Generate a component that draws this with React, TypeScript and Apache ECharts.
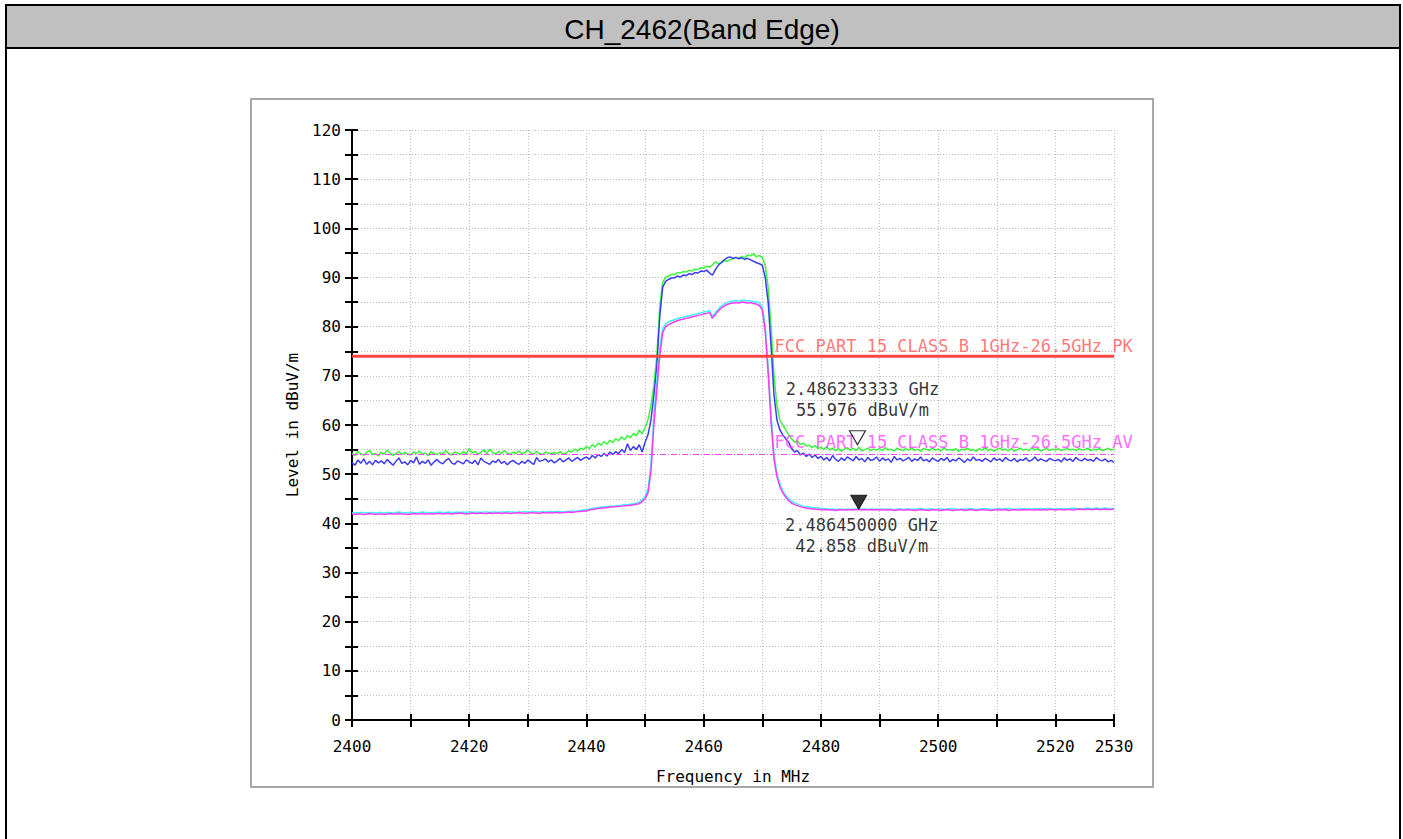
import React, { useEffect, useRef } from "react";
import * as echarts from "echarts";

const TITLE = "CH_2462(Band Edge)";
const X_NAME = "Frequency in MHz";
const Y_NAME = "Level in dBuV/m";
const X_MIN = 2400;
const X_MAX = 2530;
const Y_MIN = 0;
const Y_MAX = 120;

const LIMIT_PK = 74;
const LIMIT_AV = 54;
const LIMIT_PK_NAME = "FCC PART 15 CLASS B 1GHz-26.5GHz PK";
const LIMIT_AV_NAME = "FCC PART 15 CLASS B 1GHz-26.5GHz AV";
const LIMIT_LABEL_FREQ = 2472.0;

const MARKER_FREQ = [2486.233333, 2486.45];
const MARKER_LEVEL = [55.976, 42.858];
const MARKER_TEXT_FREQ = ["2.486233333 GHz", "2.486450000 GHz"];
const MARKER_TEXT_LEVEL = ["55.976 dBuV/m", "42.858 dBuV/m"];

// sweep grid: 0.5 MHz steps, 2400 .. 2530
const FREQ = Array.from({ length: 261 }, (_, i) => X_MIN + i * 0.5);

const GREEN = [
  54.3, 53.8, 54.6, 54.1, 53.9, 54.4, 54.8, 54.0, 54.2, 53.7,
  54.5, 54.1, 54.9, 54.3, 53.8, 54.2, 54.6, 54.0, 54.4, 54.1,
  53.9, 54.5, 54.2, 54.7, 54.0, 54.3, 53.8, 54.6, 54.2, 54.0,
  54.4, 54.1, 54.8, 54.2, 53.9, 54.5, 54.3, 54.0, 54.6, 54.2,
  55.2, 54.3, 54.6, 54.0, 54.5, 54.9, 54.2, 55.1, 54.4, 54.1,
  54.6, 54.2, 54.8, 54.3, 54.0, 54.5, 54.2, 54.7, 54.1, 54.4,
  54.9, 54.3, 54.1, 54.6, 54.2, 54.0, 54.5, 54.3, 54.1, 54.4,
  54.2, 54.6, 54.0, 54.3, 54.8, 54.5, 55.1, 54.7, 55.3, 55.0,
  55.6, 55.2, 56.0, 55.5, 56.3, 55.9, 56.6, 56.1, 56.9, 56.4,
  57.2, 56.8, 57.6, 57.0, 57.9, 57.4, 58.3, 57.8, 59.0, 58.2,
  59.5, 61.0, 64.0, 68.0, 74.0, 84.0, 89.0, 90.0, 90.3, 90.6,
  90.6, 91.0, 90.9, 91.2, 91.1, 91.5, 91.3, 91.7, 91.6, 92.0,
  91.9, 92.3, 92.1, 92.6, 93.2, 92.8, 93.0, 93.4, 93.3, 93.6,
  93.8, 94.1, 93.9, 94.3, 94.0, 94.6, 94.4, 94.8, 94.2, 94.5,
  94.0, 92.5, 88.0, 80.0, 70.0, 64.0, 61.0, 60.0, 59.0, 58.0,
  57.2, 56.5, 56.8, 56.0, 56.3, 55.7, 55.9, 55.4, 55.8, 55.2,
  55.5, 55.0, 55.6, 54.9, 55.3, 54.8, 55.2, 54.7, 55.1, 55.4,
  54.9, 55.3, 54.8, 55.5, 54.7, 55.0, 55.3, 54.8, 55.1, 54.9,
  55.2, 54.8, 55.4, 54.9, 55.1, 54.7, 55.3, 55.0, 54.8, 55.2,
  54.9, 55.3, 54.8, 55.1, 54.7, 55.2, 55.0, 54.8, 55.3, 54.9,
  55.1, 54.7, 55.4, 54.9, 55.0, 54.8, 55.2, 54.6, 55.1, 54.9,
  55.3, 54.8, 55.0, 54.7, 55.2, 54.9, 55.4, 54.8, 55.1, 54.7,
  55.0, 55.3, 54.9, 55.1, 54.8, 55.2, 54.7, 55.0, 55.3, 54.9,
  55.1, 54.8, 55.4, 54.9, 55.2, 54.7, 55.0, 55.3, 54.8, 55.1,
  54.9, 55.2, 54.8, 55.0, 55.3, 54.9, 55.1, 54.8, 55.2, 54.9,
  55.0, 55.3, 54.8, 55.1, 54.9, 55.2, 54.8, 55.0, 55.3, 54.9,
  55.0,
];

const BLUE = [
  52.4, 51.8, 52.9, 52.2, 53.1, 52.0, 52.6, 51.9, 52.8, 52.3,
  52.7, 52.1, 53.0, 52.4, 51.8, 52.6, 53.3, 52.2, 52.5, 51.9,
  52.8, 52.3, 53.5, 52.0, 52.6, 52.2, 52.9, 51.8, 52.5, 53.0,
  52.4, 52.1, 52.8, 53.2, 52.3, 52.0, 52.7, 52.4, 52.1, 52.9,
  52.5, 52.2, 52.8, 51.9, 53.3, 52.6, 52.3, 52.0, 52.7, 52.4,
  53.0, 52.2, 52.6, 51.9, 52.5, 52.8, 52.3, 52.0, 52.6, 52.2,
  52.9, 52.4, 52.0, 53.4, 52.6, 52.8, 53.1, 52.5, 52.9, 52.3,
  52.7, 53.2, 52.5, 52.9, 53.3, 52.6, 53.0, 53.4, 52.8, 53.2,
  53.5, 53.0, 53.8, 53.3, 54.0, 53.6, 54.2, 53.7, 54.5, 54.0,
  54.6, 54.2, 55.0, 54.4, 56.2, 54.8, 55.6, 55.0, 56.0, 54.5,
  56.5, 58.0, 61.0, 66.0, 72.0, 82.0, 88.0, 89.2, 89.6, 89.9,
  89.9, 90.3, 90.1, 90.5, 90.4, 90.8, 90.6, 91.0, 90.9, 91.3,
  91.2, 91.5, 90.9, 90.5, 91.6, 92.5, 93.0, 93.6, 94.0, 94.2,
  93.9, 94.1, 93.8, 94.0, 93.7, 93.9, 93.6, 93.3, 93.0, 92.8,
  92.5, 90.0, 85.0, 76.0, 66.0, 61.0, 59.0, 58.0, 57.2, 56.5,
  55.2, 54.5, 54.8, 53.9, 54.3, 53.6, 54.1, 53.4, 53.9, 53.2,
  53.6, 52.9, 53.4, 52.7, 53.8, 53.0, 52.6, 53.3, 52.8, 53.5,
  53.1, 52.7, 53.6, 52.9, 53.2, 52.5, 53.4, 52.8, 53.0, 53.5,
  52.6, 53.3, 52.8, 53.1, 52.4, 53.6, 52.9, 53.2, 52.7, 53.0,
  53.4, 52.6, 53.1, 52.8, 53.5, 52.7, 53.0, 52.5, 53.3, 52.9,
  52.6, 53.2, 52.8, 53.4, 52.5, 53.0, 52.7, 53.3, 52.9, 52.4,
  53.1, 52.7, 53.5, 52.8, 53.0, 52.6, 53.2, 52.9, 52.5, 53.3,
  52.8, 53.1, 52.6, 53.4, 52.9, 52.7, 53.2, 52.5, 53.0, 52.8,
  53.3, 52.6, 52.9, 53.5, 52.7, 53.1, 52.8, 52.6, 53.2, 52.9,
  52.7, 53.0, 52.5, 53.3, 52.8, 53.1, 52.6, 53.4, 52.9, 52.7,
  53.2, 52.8, 53.0, 52.6, 53.4, 52.9, 52.7, 53.1, 52.5, 52.8,
  52.4,
];

const CYAN = [
  42.1, 42.2, 42.1, 42.2, 42.2, 42.1, 42.2, 42.2, 42.1, 42.2,
  42.2, 42.1, 42.2, 42.2, 42.1, 42.2, 42.3, 42.2, 42.1, 42.2,
  42.2, 42.2, 42.1, 42.2, 42.3, 42.2, 42.2, 42.1, 42.2, 42.2,
  42.3, 42.2, 42.2, 42.3, 42.2, 42.2, 42.3, 42.2, 42.3, 42.2,
  42.3, 42.3, 42.2, 42.3, 42.2, 42.3, 42.3, 42.2, 42.3, 42.3,
  42.2, 42.3, 42.3, 42.4, 42.3, 42.3, 42.2, 42.3, 42.3, 42.4,
  42.3, 42.3, 42.4, 42.3, 42.3, 42.4, 42.3, 42.4, 42.4, 42.3,
  42.4, 42.4, 42.3, 42.4, 42.4, 42.5, 42.4, 42.5, 42.6, 42.7,
  42.7, 42.9, 43.0, 43.1, 43.2, 43.3, 43.3, 43.4, 43.5, 43.5,
  43.6, 43.6, 43.7, 43.8, 43.8, 43.9, 44.0, 44.1, 44.3, 44.8,
  45.5, 47.0, 52.0, 62.0, 69.0, 75.5, 79.6, 80.6, 81.0, 81.2,
  81.4, 81.6, 81.8, 81.9, 82.1, 82.2, 82.4, 82.5, 82.7, 82.8,
  83.0, 83.1, 83.3, 82.1, 82.9, 83.6, 84.2, 84.6, 84.9, 85.1,
  85.2, 85.3, 85.2, 85.4, 85.3, 85.2, 85.3, 85.1, 85.0, 84.8,
  84.0, 80.0, 72.0, 62.0, 54.0, 50.0, 48.0, 46.6, 45.7, 45.0,
  44.5, 44.2, 43.9, 43.7, 43.5, 43.4, 43.3, 43.2, 43.1, 43.1,
  43.0, 43.0, 42.9, 42.9, 42.9, 42.8, 42.9, 42.8, 42.8, 42.9,
  42.8, 42.9, 42.9, 42.8, 42.9, 42.9, 42.8, 42.9, 42.9, 42.8,
  42.9, 42.8, 42.9, 42.9, 42.8, 42.8, 42.9, 42.9, 42.8, 42.9,
  42.9, 42.8, 42.9, 42.9, 43.0, 42.9, 42.8, 42.9, 42.9, 42.8,
  42.9, 42.9, 42.8, 42.9, 43.0, 42.9, 42.9, 42.8, 42.9, 42.9,
  42.9, 43.0, 42.9, 42.8, 42.9, 42.9, 43.0, 42.9, 42.9, 42.8,
  42.9, 43.0, 42.9, 42.9, 43.0, 42.9, 42.8, 42.9, 43.0, 42.9,
  43.0, 42.9, 42.9, 43.0, 42.9, 43.0, 42.9, 43.0, 43.0, 42.9,
  43.0, 42.9, 43.0, 43.0, 42.9, 43.0, 43.1, 43.0, 42.9, 43.0,
  43.0, 43.1, 43.0, 43.0, 43.1, 43.0, 43.0, 43.1, 43.0, 43.0,
  43.0,
];

const MAGENTA = [
  41.9, 41.8, 41.9, 41.9, 41.8, 41.9, 42.0, 41.9, 41.8, 41.9,
  41.9, 41.8, 41.9, 42.0, 41.9, 41.9, 42.0, 41.9, 41.9, 41.8,
  41.9, 42.0, 41.9, 41.9, 42.0, 41.9, 41.9, 42.0, 41.9, 42.0,
  42.0, 41.9, 42.0, 42.0, 41.9, 42.0, 42.0, 42.1, 42.0, 41.9,
  42.0, 42.1, 42.0, 42.0, 42.1, 42.0, 42.0, 42.1, 42.0, 42.1,
  42.1, 42.0, 42.1, 42.1, 42.0, 42.1, 42.1, 42.2, 42.1, 42.0,
  42.1, 42.2, 42.1, 42.1, 42.0, 42.2, 42.1, 42.2, 42.1, 42.2,
  42.2, 42.1, 42.2, 42.2, 42.3, 42.2, 42.3, 42.4, 42.4, 42.5,
  42.5, 42.7, 42.8, 42.9, 43.0, 43.1, 43.1, 43.2, 43.3, 43.3,
  43.4, 43.4, 43.5, 43.6, 43.6, 43.7, 43.8, 43.9, 44.0, 44.4,
  45.0, 46.2, 50.5, 60.0, 67.0, 74.0, 78.8, 80.0, 80.4, 80.7,
  81.0, 81.2, 81.4, 81.5, 81.7, 81.8, 82.0, 82.1, 82.3, 82.4,
  82.6, 82.7, 82.9, 81.7, 82.5, 83.2, 83.8, 84.2, 84.5, 84.7,
  84.8, 84.9, 84.8, 85.0, 84.9, 84.8, 84.9, 84.7, 84.6, 84.3,
  83.4, 79.0, 70.5, 60.5, 53.0, 49.5, 47.5, 46.2, 45.3, 44.6,
  44.1, 43.8, 43.6, 43.4, 43.2, 43.1, 43.0, 42.9, 42.9, 42.8,
  42.8, 42.7, 42.8, 42.7, 42.7, 42.6, 42.7, 42.8, 42.7, 42.7,
  42.8, 42.7, 42.8, 42.86, 42.7, 42.8, 42.7, 42.8, 42.7, 42.8,
  42.7, 42.8, 42.7, 42.7, 42.8, 42.6, 42.7, 42.8, 42.7, 42.7,
  42.8, 42.7, 42.6, 42.7, 42.8, 42.7, 42.7, 42.6, 42.8, 42.7,
  42.7, 42.6, 42.7, 42.8, 42.7, 42.6, 42.7, 42.7, 42.8, 42.6,
  42.7, 42.8, 42.7, 42.6, 42.7, 42.8, 42.7, 42.7, 42.6, 42.7,
  42.8, 42.7, 42.7, 42.8, 42.6, 42.7, 42.8, 42.7, 42.7, 42.8,
  42.7, 42.8, 42.7, 42.7, 42.8, 42.7, 42.8, 42.7, 42.8, 42.8,
  42.7, 42.8, 42.8, 42.7, 42.8, 42.8, 42.7, 42.8, 42.9, 42.8,
  42.8, 42.9, 42.8, 42.8, 42.9, 42.8, 42.8, 42.9, 42.8, 42.8,
  42.9,
];

const FONT = "DejaVu Sans Mono";

const pairs = (vals: number[]) => vals.map((v, i) => [FREQ[i], v]);

export default function App() {
  const ref = useRef<HTMLDivElement>(null);

  useEffect(() => {
    if (!ref.current) return;
    const chart = echarts.init(ref.current, null, { renderer: "svg" });

    const traceSeries = (data: number[], color: string, z: number) => ({
      type: "line",
      data: pairs(data),
      symbol: "none",
      showSymbol: false,
      lineStyle: { color, width: 1.5 },
      z,
      silent: true,
    });

    const tri = "path://M0,0L16,0L8,14Z";

    const option: any = {
      animation: false,
      backgroundColor: "#ffffff",
      graphic: [
        { type: "rect", z: -10, shape: { x: 6, y: 5, width: 1394, height: 43 }, style: { fill: "#c0c0c0" } },
        { type: "line", z: -9, shape: { x1: 5, y1: 5, x2: 1401, y2: 5 }, style: { stroke: "#000", lineWidth: 2 } },
        { type: "line", z: -9, shape: { x1: 5, y1: 48, x2: 1401, y2: 48 }, style: { stroke: "#000", lineWidth: 2 } },
        { type: "line", z: -9, shape: { x1: 6, y1: 4, x2: 6, y2: 839 }, style: { stroke: "#000", lineWidth: 2 } },
        { type: "line", z: -9, shape: { x1: 1400, y1: 4, x2: 1400, y2: 839 }, style: { stroke: "#000", lineWidth: 2 } },
        {
          type: "text", z: -8, x: 702, y: 29,
          style: { text: TITLE, font: "28px 'Liberation Sans', Arial, sans-serif", fill: "#000", textAlign: "center", textVerticalAlign: "middle" },
        },
        { type: "rect", z: -10, shape: { x: 251, y: 99, width: 902, height: 688 }, style: { fill: "#fff", stroke: "#a8a8a8", lineWidth: 2 } },
      ],
      grid: { left: 352, top: 130, width: 762, height: 590, containLabel: false },
      xAxis: [
        {
          type: "value", min: X_MIN, max: X_MAX, interval: 10,
          name: X_NAME, nameLocation: "middle", nameGap: 48,
          nameTextStyle: { fontFamily: FONT, fontSize: 16, color: "#000" },
          axisLine: { show: true, onZero: false, lineStyle: { color: "#000", width: 2 } },
          axisTick: { show: true, length: 7, lineStyle: { color: "#000", width: 2 } },
          axisLabel: {
            margin: 18, fontFamily: FONT, fontSize: 16, color: "#000", showMaxLabel: true, showMinLabel: true,
            formatter: (v: number) => (v === X_MAX || (v - X_MIN) % 20 === 0 ? String(v) : ""),
          },
          splitLine: { show: true, lineStyle: { color: "#bdbdbd", width: 1, type: [1, 2] } },
        },
        {
          type: "value", min: X_MIN, max: X_MAX, interval: 10, position: "bottom",
          axisLine: { show: false, onZero: false },
          axisTick: { show: true, inside: true, length: 6, lineStyle: { color: "#000", width: 2 } },
          axisLabel: { show: false },
          splitLine: { show: false },
        },
      ],
      yAxis: [
        {
          type: "value", min: Y_MIN, max: Y_MAX, interval: 5,
          name: Y_NAME, nameLocation: "middle", nameGap: 52, nameRotate: 90,
          nameTextStyle: { fontFamily: FONT, fontSize: 16, color: "#000" },
          axisLine: { show: true, onZero: false, lineStyle: { color: "#000", width: 2 } },
          axisTick: { show: true, length: 7, lineStyle: { color: "#000", width: 2 } },
          axisLabel: {
            margin: 11, fontFamily: FONT, fontSize: 16, color: "#000",
            formatter: (v: number) => (v % 10 === 0 ? String(v) : ""),
          },
          splitLine: { show: true, lineStyle: { color: "#bdbdbd", width: 1, type: [1, 2] } },
        },
        {
          type: "value", min: Y_MIN, max: Y_MAX, interval: 5, position: "left",
          axisLine: { show: false, onZero: false },
          axisTick: { show: true, inside: true, length: 6, lineStyle: { color: "#000", width: 2 } },
          axisLabel: { show: false },
          splitLine: { show: false },
        },
      ],
      series: [
        traceSeries(GREEN, "#3cf53c", 2),
        traceSeries(BLUE, "#3c3cf5", 3),
        traceSeries(CYAN, "#3cf5f5", 4),
        traceSeries(MAGENTA, "#f53cf5", 5),
        {
          type: "line", z: 6, silent: true, symbol: "none",
          data: [[X_MIN, LIMIT_PK], [X_MAX, LIMIT_PK]],
          lineStyle: { color: "#ff4444", width: 3 },
        },
        {
          type: "line", z: 6, silent: true, symbol: "none",
          data: [[X_MIN, LIMIT_AV], [X_MAX, LIMIT_AV]],
          lineStyle: { color: "#ff44ff", width: 1, type: [6, 2, 1, 2] },
        },
        {
          type: "scatter", z: 7, silent: true, symbolSize: 1, clip: false,
          itemStyle: { color: "rgba(0,0,0,0)" },
          label: { show: true, position: "right", distance: 0, fontFamily: FONT, fontSize: 17 },
          data: [
            { value: [LIMIT_LABEL_FREQ, LIMIT_PK], label: { formatter: LIMIT_PK_NAME, color: "#ff5555", offset: [0, -10] } },
            { value: [LIMIT_LABEL_FREQ, LIMIT_AV], label: { formatter: LIMIT_AV_NAME, color: "#ff44ff", offset: [0, -13] } },
          ],
        },
        {
          type: "scatter", z: 8, silent: true, symbol: tri, symbolSize: [16, 14], symbolOffset: [0, -7],
          label: { show: true, fontFamily: FONT, fontSize: 17, color: "#000", lineHeight: 21, align: "center" },
          data: [
            {
              value: [MARKER_FREQ[0], MARKER_LEVEL[0]],
              itemStyle: { color: "#ffffff", borderColor: "#000", borderWidth: 1.2 },
              label: { position: "top", distance: 10, offset: [5, 0], formatter: MARKER_TEXT_FREQ[0] + "\n" + MARKER_TEXT_LEVEL[0] },
            },
            {
              value: [MARKER_FREQ[1], MARKER_LEVEL[1]],
              itemStyle: { color: "#000000", borderColor: "#000", borderWidth: 1 },
              label: { position: "bottom", distance: 5, offset: [3, 0], formatter: MARKER_TEXT_FREQ[1] + "\n" + MARKER_TEXT_LEVEL[1] },
            },
          ],
        },
      ],
    };

    chart.setOption(option);
    return () => chart.dispose();
  }, []);

  return (
    <div
      ref={ref}
      style={{ position: "absolute", left: 0, top: 0, width: 1403, height: 839 }}
    />
  );
}
